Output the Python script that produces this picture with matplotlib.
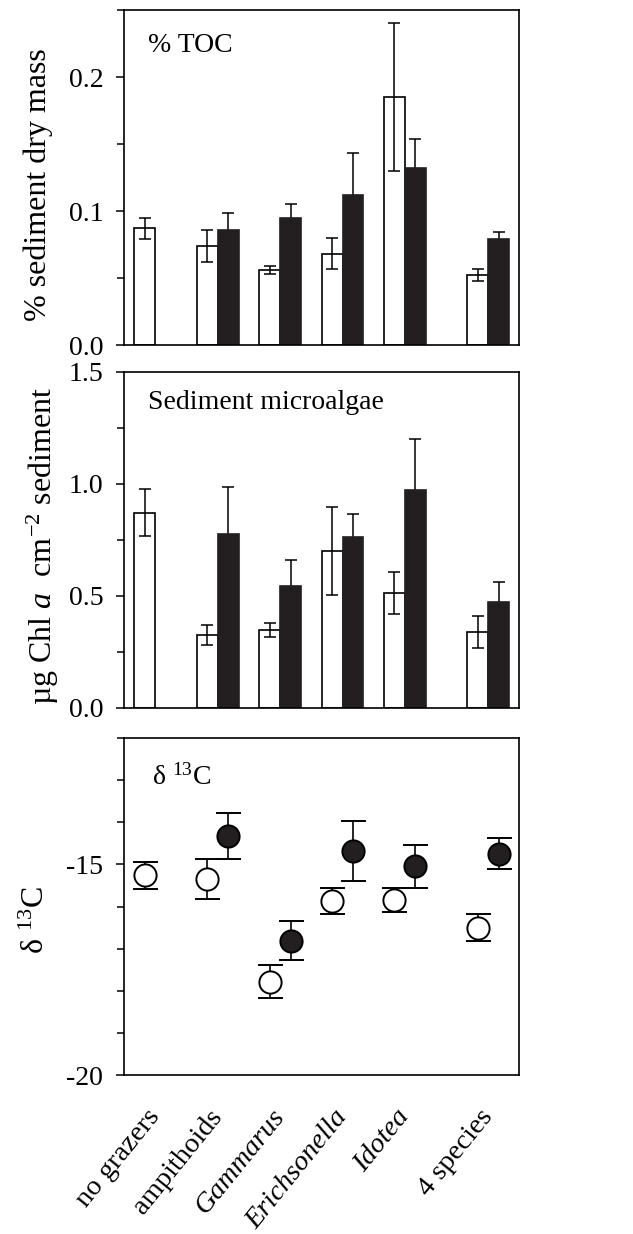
import matplotlib
matplotlib.use('Agg')
import matplotlib.pyplot as plt
import numpy as np
from matplotlib.ticker import MultipleLocator

# treatments
categories = ['no grazers', 'ampithoids', 'Gammarus', 'Erichsonella', 'Idotea', '4 species']
italic_names = [False, False, True, True, True, False]

# % TOC (open / filled bars)
toc_open = [0.087, 0.074, 0.056, 0.068, 0.185, 0.052]
toc_open_err = [0.008, 0.012, 0.003, 0.0115, 0.055, 0.0045]
toc_fill = [np.nan, 0.0855, 0.095, 0.112, 0.132, 0.079]
toc_fill_err = [np.nan, 0.013, 0.010, 0.031, 0.022, 0.005]

# sediment microalgae, ug Chl a cm-2
chl_open = [0.872, 0.326, 0.347, 0.699, 0.512, 0.339]
chl_open_err = [0.105, 0.046, 0.032, 0.196, 0.093, 0.073]
chl_fill = [np.nan, 0.775, 0.543, 0.765, 0.973, 0.473]
chl_fill_err = [np.nan, 0.21, 0.116, 0.10, 0.226, 0.087]

# delta 13C
d13c_open = [-15.26, -15.34, -17.78, -15.86, -15.85, -16.50]
d13c_open_err = [0.32, 0.47, 0.40, 0.31, 0.28, 0.32]
d13c_fill = [np.nan, -14.33, -16.81, -14.68, -15.04, -14.75]
d13c_fill_err = [np.nan, 0.55, 0.46, 0.72, 0.51, 0.37]

plt.rcParams['font.family'] = ['Liberation Serif', 'DejaVu Serif']
plt.rcParams['mathtext.fontset'] = 'custom'
plt.rcParams['mathtext.rm'] = 'Liberation Serif'
plt.rcParams['mathtext.it'] = 'Liberation Serif:italic'
plt.rcParams['axes.linewidth'] = 1.2
plt.rcParams['axes.unicode_minus'] = False

FS = 20      # tick labels, panel titles
FS_LAB = 23  # y axis labels
dark = '#231f20'
x = np.array([0, 1, 2, 3, 4, 5.33])
w = 0.336

fig = plt.figure(figsize=(6.33, 12.34), dpi=100)
ax1 = fig.add_axes([0.1959, 0.7204, 0.624, 0.2715])
ax2 = fig.add_axes([0.1959, 0.4263, 0.624, 0.2723])
ax3 = fig.add_axes([0.1959, 0.1288, 0.624, 0.2731])


def style(ax, major, minor, lo, hi):
    ax.set_xlim(-0.496, 5.824)
    ax.set_ylim(lo, hi)
    ax.yaxis.set_major_locator(MultipleLocator(major))
    ax.yaxis.set_minor_locator(MultipleLocator(minor))
    ax.tick_params(axis='y', which='major', direction='out', length=6, width=1.1,
                   labelsize=FS, pad=9)
    ax.tick_params(axis='y', which='minor', direction='out', length=5, width=1.1)
    ax.tick_params(axis='x', length=0)


def bars(ax, op, op_err, fi, fi_err):
    ax.bar(x - w / 2, op, w, color='white', edgecolor='black', lw=1.2, zorder=2)
    ax.bar(x + w / 2, fi, w, color=dark, edgecolor=dark, lw=1.2, zorder=2)
    ax.errorbar(x - w / 2, op, yerr=op_err, fmt='none', ecolor='black',
                elinewidth=1.1, capsize=4, capthick=1.1, zorder=3)
    ax.errorbar(x + w / 2, fi, yerr=fi_err, fmt='none', ecolor='black',
                elinewidth=1.1, capsize=4, capthick=1.1, zorder=1)


bars(ax1, toc_open, toc_open_err, toc_fill, toc_fill_err)
style(ax1, 0.1, 0.05, 0, 0.25)
ax1.set_xticks(x)
ax1.set_xticklabels([])
ax1.set_ylabel('% sediment dry mass', fontsize=FS_LAB)
ax1.yaxis.set_label_coords(-0.18, 0.478)
ax1.text(0.061, 0.895, '% TOC', transform=ax1.transAxes, fontsize=FS, va='center')

bars(ax2, chl_open, chl_open_err, chl_fill, chl_fill_err)
style(ax2, 0.5, 0.25, 0, 1.5)
ax2.set_xticks(x)
ax2.set_xticklabels([])
ax2.set_ylabel('µg Chl $\\it{a}$  cm$^{-2}$ sediment', fontsize=FS_LAB)
ax2.yaxis.set_label_coords(-0.16, 0.482)
ax2.text(0.061, 0.91, 'Sediment microalgae', transform=ax2.transAxes, fontsize=FS,
         va='center')

ax3.errorbar(x - w / 2, d13c_open, yerr=d13c_open_err, fmt='o', color='black',
             mfc='white', mec='black', ms=16, mew=1.4, elinewidth=1.2,
             capsize=9, capthick=1.2)
ax3.errorbar(x + w / 2, d13c_fill, yerr=d13c_fill_err, fmt='o', color='black',
             mfc=dark, mec='black', ms=16, mew=1.4, elinewidth=1.2,
             capsize=9, capthick=1.2)
style(ax3, 5, 1, -20, -12)
ax3.set_ylabel('δ $^{13}$C', fontsize=FS_LAB)
ax3.yaxis.set_label_coords(-0.185, 0.46)
ax3.text(0.071, 0.884, 'δ $^{13}$C', transform=ax3.transAxes, fontsize=FS, va='center')
ax3.set_xticks(x)
ax3.set_xticklabels(categories, rotation=51, ha='right', va='center',
                    rotation_mode='anchor', fontsize=20.5)
ax3.tick_params(axis='x', pad=27)
for lab, it in zip(ax3.get_xticklabels(), italic_names):
    if it:
        lab.set_fontstyle('italic')

fig.savefig('out.png', dpi=100)
